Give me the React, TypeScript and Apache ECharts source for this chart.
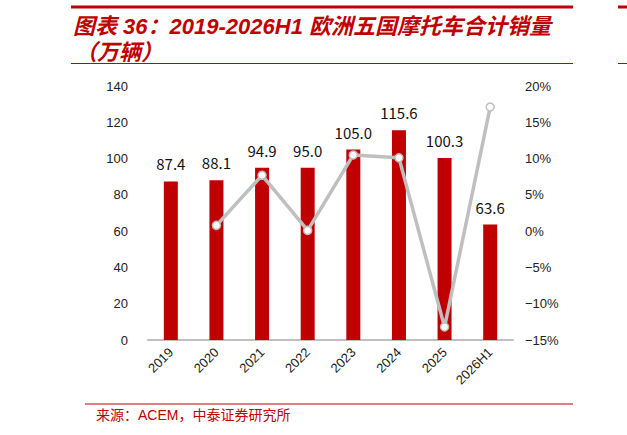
import React, { useEffect, useRef } from 'react';
import * as echarts from 'echarts';

// 欧洲五国摩托车合计销量（万辆）与同比增速
const years = ['2019', '2020', '2021', '2022', '2023', '2024', '2025', '2026H1'];
const sales = [87.4, 88.1, 94.9, 95.0, 105.0, 115.6, 100.3, 63.6];
const growth = [null, 0.8, 7.7, 0.1, 10.5, 10.1, -13.2, 17.1];

const RED = '#C00000';
const GREY = '#BFBFBF';

const App: React.FC = () => {
    const chartRef = useRef<HTMLDivElement>(null);

    useEffect(() => {
        if (!chartRef.current) return;

        const myChart = echarts.init(chartRef.current, null, { renderer: 'svg' });

        const option: echarts.EChartsOption = {
            animation: false,
            backgroundColor: '#fff',
            grid: { left: 148, right: 114, top: 86, bottom: 95 },
            xAxis: {
                type: 'category',
                data: years,
                axisLine: { lineStyle: { color: GREY, width: 2 } },
                axisTick: { show: false },
                axisLabel: {
                    rotate: 45,
                    margin: 10,
                    color: '#222',
                    fontSize: 13,
                    fontFamily: 'Liberation Sans'
                }
            },
            yAxis: [
                {
                    type: 'value',
                    min: 0,
                    max: 140,
                    interval: 20,
                    splitLine: { show: false },
                    axisLine: { show: false },
                    axisTick: { show: false },
                    axisLabel: { margin: 20, color: '#222', fontSize: 13, fontFamily: 'Liberation Sans' }
                },
                {
                    type: 'value',
                    min: -15,
                    max: 20,
                    interval: 5,
                    splitLine: { show: false },
                    axisLine: { show: false },
                    axisTick: { show: false },
                    axisLabel: {
                        margin: 12,
                        color: '#222',
                        fontSize: 13,
                        fontFamily: 'Liberation Sans',
                        formatter: (v: number) => (v < 0 ? '\u2212' + Math.abs(v) : v) + '%'
                    }
                }
            ],
            series: [
                {
                    name: '销量',
                    type: 'bar',
                    data: sales,
                    barWidth: 14,
                    itemStyle: { color: RED },
                    label: {
                        show: true,
                        position: 'top',
                        distance: 10,
                        color: '#111',
                        fontSize: 15,
                        fontFamily: 'Noto Sans CJK SC',
                        formatter: (p: any) => Number(p.value).toFixed(1)
                    }
                },
                {
                    name: '同比',
                    type: 'line',
                    yAxisIndex: 1,
                    data: growth,
                    symbol: 'circle',
                    symbolSize: 8,
                    lineStyle: { color: GREY, width: 3.5 },
                    itemStyle: { color: '#fff', borderColor: GREY, borderWidth: 1.5 },
                    z: 3
                }
            ],
            graphic: [
                { type: 'line', shape: { x1: 71, y1: 7, x2: 573, y2: 7 }, style: { stroke: RED, lineWidth: 3 } },
                { type: 'line', shape: { x1: 618, y1: 7, x2: 627, y2: 7 }, style: { stroke: RED, lineWidth: 3 } },
                { type: 'line', shape: { x1: 71, y1: 63.5, x2: 573, y2: 63.5 }, style: { stroke: RED, lineWidth: 1 } },
                { type: 'line', shape: { x1: 618, y1: 63.5, x2: 627, y2: 63.5 }, style: { stroke: RED, lineWidth: 1 } },
                {
                    type: 'text',
                    x: 73,
                    y: 26,
                    style: {
                        text: '图表 36：2019-2026H1 欧洲五国摩托车合计销量',
                        fill: RED,
                        font: 'italic bold 22px "Liberation Sans", "Noto Sans CJK SC"',
                        verticalAlign: 'middle'
                    }
                },
                {
                    type: 'text',
                    x: 75,
                    y: 52,
                    style: {
                        text: '（万辆）',
                        fill: RED,
                        font: 'italic bold 22px "Liberation Sans", "Noto Sans CJK SC"',
                        verticalAlign: 'middle'
                    }
                },
                { type: 'line', shape: { x1: 85, y1: 404, x2: 573, y2: 404 }, style: { stroke: RED, lineWidth: 1 } },
                {
                    type: 'text',
                    x: 96,
                    y: 415,
                    style: {
                        text: '来源：ACEM，中泰证券研究所',
                        fill: RED,
                        font: '14px "Liberation Sans", "Noto Sans CJK SC"',
                        verticalAlign: 'middle'
                    }
                }
            ]
        };

        myChart.setOption(option);

        return () => {
            myChart.dispose();
        };
    }, []);

    return (
        <div
            ref={chartRef}
            style={{ position: 'fixed', left: 0, top: 0, width: '627px', height: '435px' }}
        />
    );
};

export default App;
